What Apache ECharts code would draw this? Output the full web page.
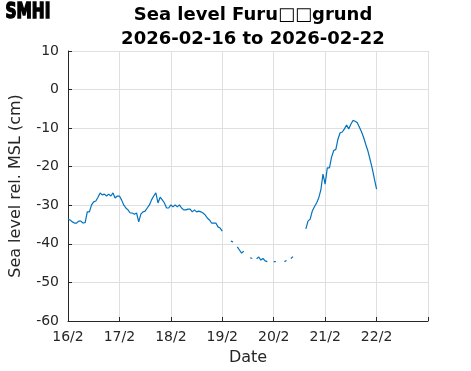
<!DOCTYPE html>
<html>
<head>
<meta charset="utf-8">
<script src="https://cdn.jsdelivr.net/npm/echarts@6/dist/echarts.min.js"></script>
<style>html,body{margin:0;padding:0;background:#fff}#c{width:471px;height:371px}</style>
</head>
<body>
<div id="c"></div>
<script>
// Hourly sea level (cm rel. MSL) from 2026-02-16 00:00, null = missing
const startDate = '2026-02-16';
const hourlyLevels = [
  -33.6,-33.8,-34.3,-34.6,-34.6,-34.1,-34.1,-34.6,-34.5,-31.7,
  -31.7,-29.9,-29.1,-28.9,-27.9,-26.8,-27.3,-27.1,-27.6,-27.1,
  -27.6,-26.8,-28.1,-27.6,-27.6,-28.6,-29.9,-30.7,-31.2,-32.0,
  -32.0,-32.3,-32.0,-34.3,-32.3,-31.7,-31.5,-30.7,-29.9,-28.6,
  -27.6,-26.8,-29.4,-27.9,-28.6,-29.4,-30.7,-30.7,-29.9,-30.4,
  -29.9,-30.4,-29.9,-30.7,-31.2,-31.2,-31.0,-31.0,-31.7,-31.2,
  -31.7,-31.5,-31.7,-32.0,-32.5,-33.3,-33.8,-34.6,-34.6,-34.6,
  -35.6,-35.9,-36.7,null,null,null,-39.3,-39.5,null,-40.8,
  -41.6,-42.4,-41.9,null,null,-43.6,-43.8,null,-43.9,-43.4,
  -44.2,-43.8,-44.4,-44.6,null,null,-44.6,-44.6,null,null,
  null,-44.6,-44.3,null,-43.8,-43.3,null,null,null,null,
  null,-36.1,-34.1,-33.6,-31.5,-30.4,-29.4,-28.1,-26.0,-21.9,
  -24.5,-20.3,-20.3,-17.5,-15.8,-15.5,-12.8,-11.2,-11.0,-10.2,
  -9.2,-10.2,-9.0,-8.0,-8.2,-8.6,-9.8,-11.0,-12.5,-14.3,
  -16.0,-18.2,-20.5,-23.2,-25.8
];
const xTickLabels = ['16/2','17/2','18/2','19/2','20/2','21/2','22/2',''];
const yTicks = [-60,-50,-40,-30,-20,-10,0,10];
const titleText = 'Sea level Furu\u25A1\u25A1grund\n2026-02-16 to 2026-02-22';

const seriesData = hourlyLevels.map((v, h) => [h, v]);

const chart = echarts.init(document.getElementById('c'), null, {renderer: 'canvas'});
const axisColor = '#262626';
const gridColor = '#dfdfdf';
chart.setOption({
  animation: false,
  backgroundColor: '#fff',
  title: {
    text: titleText,
    left: 248, top: -2, textAlign: 'center',
    textStyle: {fontFamily: 'DejaVu Sans', fontWeight: 'bold', fontSize: 18, lineHeight: 24, color: '#000'}
  },
  graphic: [{
    type: 'text', left: 5, top: 2, scaleY: 1.2,
    style: {text: 'SMHI', fontFamily: 'DejaVu Sans Condensed, DejaVu Sans', fontWeight: 'bold', fontSize: 17,
      fill: '#000', stroke: '#000', lineWidth: 1.2}
  }],
  grid: {left: 68, right: 43, top: 51, bottom: 50, containLabel: false},
  xAxis: {
    type: 'value', min: 0, max: 168, interval: 24,
    name: 'Date', nameLocation: 'middle', nameGap: 29,
    nameTextStyle: {fontFamily: 'DejaVu Sans', fontSize: 16, color: axisColor},
    axisLine: {show: true, onZero: false, lineStyle: {color: axisColor, width: 1}},
    axisTick: {show: true, inside: true, length: 4, lineStyle: {color: axisColor}},
    axisLabel: {margin: 9, fontFamily: 'DejaVu Sans', fontSize: 14, color: axisColor,
      formatter: v => xTickLabels[Math.round(v / 24)] || ''},
    splitLine: {show: true, lineStyle: {color: gridColor, width: 1}}
  },
  yAxis: {
    type: 'value', min: yTicks[0], max: yTicks[yTicks.length - 1], interval: 10,
    name: 'Sea level rel. MSL (cm)', nameLocation: 'middle', nameGap: 44,
    nameTextStyle: {fontFamily: 'DejaVu Sans', fontSize: 16, color: axisColor},
    axisLine: {show: true, onZero: false, lineStyle: {color: axisColor, width: 1}},
    axisTick: {show: true, inside: true, length: 4, lineStyle: {color: axisColor}},
    axisLabel: {margin: 9, fontFamily: 'DejaVu Sans', fontSize: 14, color: axisColor},
    splitLine: {show: true, lineStyle: {color: gridColor, width: 1}}
  },
  series: [{
    type: 'line', data: seriesData, showSymbol: false, connectNulls: false,
    lineStyle: {color: '#0072BD', width: 1.2}, itemStyle: {color: '#0072BD'}
  }]
});
</script>
</body>
</html>
